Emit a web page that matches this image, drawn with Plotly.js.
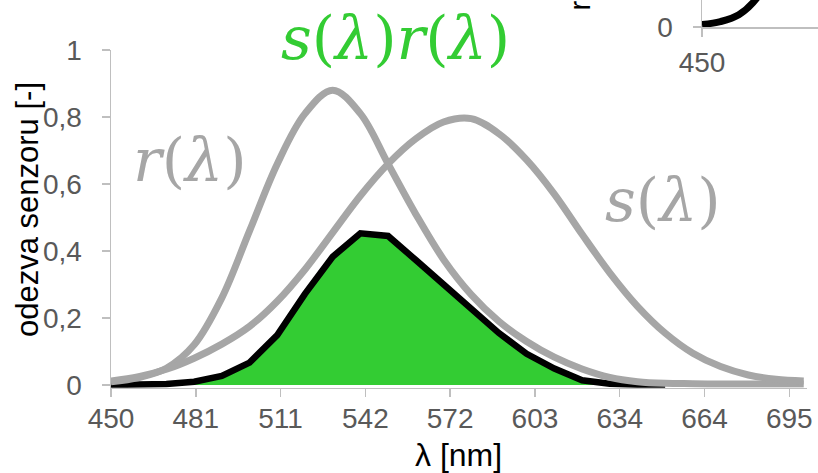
<!DOCTYPE html>
<html>
<head>
<meta charset="utf-8">
<script src="https://cdn.plot.ly/plotly-3.0.1.min.js"></script>
<style>
  html, body { margin: 0; padding: 0; background: #ffffff; }
  #chart { width: 818px; height: 473px; }
</style>
</head>
<body>
<div id="chart"></div>
<script>
// ---- data ----
const wavelengths = [450, 460, 470, 480, 490, 500, 510, 520, 530, 540, 550, 560, 570,
                     580, 590, 600, 610, 620, 630, 640, 650, 660, 670, 680, 690, 700];
const rValues = [0.01, 0.022, 0.05, 0.12, 0.26, 0.46, 0.66, 0.81, 0.88, 0.81, 0.66, 0.51, 0.375,
                 0.27, 0.19, 0.13, 0.083, 0.048, 0.023, 0.01, 0.005, 0.004, 0.003, 0.003, 0.003, 0.003];
const sValues = [0.012, 0.025, 0.047, 0.08, 0.122, 0.175, 0.25, 0.345, 0.455, 0.565, 0.66, 0.735, 0.785,
                 0.795, 0.75, 0.672, 0.57, 0.45, 0.335, 0.235, 0.155, 0.095, 0.055, 0.03, 0.017, 0.012];
const productWavelengths = [450, 460, 470, 480, 490, 500, 510, 520, 530, 540, 550, 560, 570,
                            580, 590, 600, 610, 620, 630, 640, 650];
const productValues = [0, 0.001, 0.003, 0.01, 0.027, 0.067, 0.149, 0.272, 0.383, 0.453, 0.445, 0.373, 0.30,
                       0.225, 0.155, 0.093, 0.049, 0.014, 0.004, 0.001, 0];
const xTickPositions = [450, 480.6, 511.2, 541.8, 572.4, 603, 633.6, 664.2, 694.8];
const xTickLabels = ['450', '481', '511', '542', '572', '603', '634', '664', '695'];
const yTickValues = [0, 0.2, 0.4, 0.6, 0.8, 1];
const yTickLabels = ['0', '0,2', '0,4', '0,6', '0,8', '1'];
const insetXTicks = [450];
const insetXLabels = ['450'];
const insetYTicks = [0];
const insetYLabels = ['0'];

// ---- layout helpers (pixel -> paper) ----
const W = 818, H = 473;
const px = v => v / W;
const py = v => 1 - v / H;

const GRAY = '#a6a6a6';
const AXIS = '#bfbfbf';
const TICKFONT = { family: 'Liberation Sans, Arial, sans-serif', size: 28, color: '#595959' };
const MATHFONT = 'DejaVu Serif, serif';

const traces = [
  {
    x: productWavelengths, y: productValues, type: 'scatter', mode: 'lines',
    fill: 'tozeroy', fillcolor: '#33cc33',
    line: { color: '#000000', width: 6.5, shape: 'linear' },
    xaxis: 'x', yaxis: 'y', hoverinfo: 'skip'
  },
  {
    x: wavelengths, y: rValues, type: 'scatter', mode: 'lines',
    line: { color: GRAY, width: 7, shape: 'spline', smoothing: 1 },
    xaxis: 'x', yaxis: 'y', hoverinfo: 'skip'
  },
  {
    x: wavelengths, y: sValues, type: 'scatter', mode: 'lines',
    line: { color: GRAY, width: 7, shape: 'spline', smoothing: 1 },
    xaxis: 'x', yaxis: 'y', hoverinfo: 'skip'
  },
  {
    x: wavelengths, y: rValues, type: 'scatter', mode: 'lines',
    line: { color: '#000000', width: 7, shape: 'spline', smoothing: 1 },
    xaxis: 'x2', yaxis: 'y2', hoverinfo: 'skip'
  }
];

const layout = {
  width: W, height: H,
  margin: { l: 0, r: 0, t: 0, b: 0, pad: 0 },
  paper_bgcolor: '#ffffff', plot_bgcolor: 'rgba(0,0,0,0)',
  showlegend: false,
  title: {
    text: '<i>s</i>(<i>λ</i>)<i>r</i>(<i>λ</i>)',
    font: { family: MATHFONT, size: 60, color: '#33cc33' },
    x: px(395.5), xref: 'paper', xanchor: 'center',
    y: py(38), yref: 'container', yanchor: 'middle'
  },
  xaxis: {
    domain: [px(111), px(806.5)], range: [450, 701], anchor: 'y',
    tickmode: 'array', tickvals: xTickPositions, ticktext: xTickLabels,
    ticks: 'outside', ticklen: 8, tickwidth: 1.5, tickcolor: AXIS,
    showline: true, linecolor: AXIS, linewidth: 1.5,
    showgrid: false, zeroline: false, tickfont: TICKFONT,
    ticklabelstandoff: -3, automargin: false, fixedrange: true
  },
  yaxis: {
    domain: [py(387.7), py(50)], range: [-0.008, 1], anchor: 'x',
    tickmode: 'array', tickvals: yTickValues, ticktext: yTickLabels,
    ticks: 'outside', ticklen: 8, tickwidth: 1.5, tickcolor: AXIS,
    showline: true, linecolor: AXIS, linewidth: 1.5,
    showgrid: false, zeroline: false, tickfont: TICKFONT,
    ticklabelstandoff: 14, automargin: false, fixedrange: true
  },
  xaxis2: {
    domain: [px(702), 1], range: [450, 513], anchor: 'y2',
    tickmode: 'array', tickvals: insetXTicks, ticktext: insetXLabels,
    ticks: 'outside', ticklen: 8, tickwidth: 1.5, tickcolor: AXIS,
    showline: true, linecolor: AXIS, linewidth: 1.5,
    showgrid: false, zeroline: false, tickfont: TICKFONT,
    ticklabelstandoff: 2, automargin: false, fixedrange: true
  },
  yaxis2: {
    domain: [py(27), 1], range: [0, 0.11], anchor: 'x2',
    tickmode: 'array', tickvals: insetYTicks, ticktext: insetYLabels,
    ticks: 'outside', ticklen: 8, tickwidth: 1.5, tickcolor: AXIS,
    showline: true, linecolor: AXIS, linewidth: 1.5,
    showgrid: false, zeroline: false, tickfont: TICKFONT,
    ticklabelstandoff: 14, automargin: false, fixedrange: true
  },
  annotations: [
    { text: '<i>r</i>(<i>λ</i>)', xref: 'paper', yref: 'paper', x: px(190), y: py(160),
      xanchor: 'center', yanchor: 'middle', showarrow: false,
      font: { family: MATHFONT, size: 60, color: GRAY } },
    { text: '<i>s</i>(<i>λ</i>)', xref: 'paper', yref: 'paper', x: px(663), y: py(200),
      xanchor: 'center', yanchor: 'middle', showarrow: false,
      font: { family: MATHFONT, size: 60, color: GRAY } },
    { text: 'odezva senzoru [-]', xref: 'paper', yref: 'paper', x: px(28), y: py(210),
      xanchor: 'center', yanchor: 'middle', showarrow: false, textangle: -90,
      font: { family: 'Liberation Sans, Arial, sans-serif', size: 31, color: '#000000' } },
    { text: 'λ [nm]', xref: 'paper', yref: 'paper', x: px(458), y: py(455),
      xanchor: 'center', yanchor: 'middle', showarrow: false,
      font: { family: 'Liberation Sans, Arial, sans-serif', size: 32, color: '#000000' } },
    { text: 'r(λ) [-]', xref: 'paper', yref: 'paper', x: px(580), y: py(13),
      xanchor: 'center', yanchor: 'bottom', showarrow: false, textangle: -90,
      font: { family: 'Liberation Sans, Arial, sans-serif', size: 29, color: '#000000' } }
  ]
};

Plotly.newPlot('chart', traces, layout, { staticPlot: true, displayModeBar: false });
</script>
</body>
</html>
